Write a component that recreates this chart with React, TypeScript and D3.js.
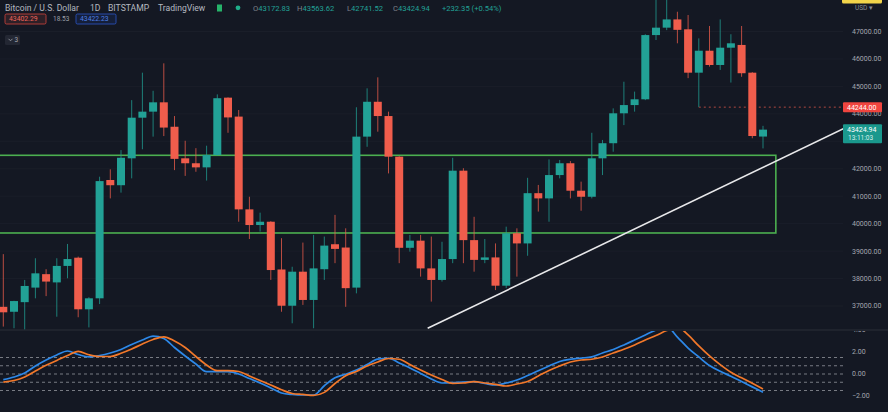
import React from 'react';
import * as d3 from 'd3';

// daily BTC/USD candles, bar 0 = left edge of the view
const opens = [
  36970, 36790, 37140, 37670, 38160, 37860, 38460, 38760, 36880, 37280,
  41590, 41400, 42380, 43860, 44080, 44420, 43530, 42380, 42200, 42050,
  42500, 44590, 43900, 40520, 39950, 40070, 38330, 37010, 38250, 37220,
  38340, 39250, 39130, 37670, 43170, 44440, 43920, 42440, 39120, 39380,
  38370, 37950, 38710, 41930, 39400, 38680, 38770, 37740, 39650, 39280,
  41110, 40920, 41770, 42200, 41200, 40980, 42380, 42930, 44020, 44320,
  44530, 46870, 47140, 47440, 47080, 45500, 46300, 45780, 46410, 46510,
  45500, 43172.83,
];
const highs = [
  38890, 37190, 37950, 38740, 38340, 38740, 39260, 38800, 37320, 41710,
  41980, 42680, 44500, 45500, 44840, 45840, 43920, 43020, 42750, 42840,
  44710, 44600, 44140, 40980, 40400, 40090, 39470, 38430, 39310, 39590,
  39530, 40320, 39830, 44240, 44930, 45330, 44080, 42460, 39590, 39590,
  39530, 39340, 42400, 42020, 40250, 39440, 39280, 39890, 39830, 41670,
  41410, 42340, 42320, 42280, 41530, 43310, 43050, 44200, 45170, 44810,
  46900, 48150, 48150, 47720, 47600, 46750, 47200, 47440, 46900, 47200,
  45520, 43563.62,
];
const lows = [
  36250, 36190, 36150, 37280, 37360, 36610, 38010, 36590, 36220, 37070,
  40920, 41130, 41650, 42710, 43170, 43190, 41950, 41740, 41890, 41570,
  42480, 43310, 40070, 39440, 39710, 37950, 36790, 36370, 37040, 36190,
  37950, 38560, 36970, 37460, 42800, 43350, 41830, 38560, 38980, 38070,
  37160, 37890, 38560, 38560, 38250, 38560, 37580, 37650, 38070, 38830,
  40440, 40070, 41650, 40920, 40470, 40920, 41770, 42620, 43590, 44080,
  44500, 46690, 47050, 46570, 45300, 44244, 45720, 45600, 45140, 45350,
  43110, 42741.52,
];
const closes = [
  36770, 37180, 37730, 38190, 37890, 38460, 38710, 36880, 37280, 41550,
  41400, 42400, 43860, 44080, 44420, 43500, 42360, 42200, 42050, 42500,
  44570, 43870, 40520, 39950, 40070, 38310, 37010, 38250, 37220, 38370,
  39200, 39080, 37650, 43170, 44440, 43920, 42440, 39120, 39380, 38370,
  37950, 38710, 41930, 39400, 38680, 38770, 37740, 39650, 39280, 41110,
  40920, 41770, 42200, 41200, 40980, 42380, 42930, 44020, 44320, 44530,
  46870, 47140, 47440, 47060, 45500, 46300, 45780, 46410, 46570, 45480,
  43192.59, 43424.94,
];

// oscillator pane
const fastLine = [
  -0.51, -0.27, 0.09, 0.73, 1.27, 1.73, 2.09, 1.77, 1.55, 1.68,
  1.91, 2.23, 2.68, 3.09, 3.45, 3.23, 2.41, 1.64, 0.91, 0.21,
  0.21, 0.21, 0, -0.41, -0.82, -1.27, -1.73, -1.86, -1.91, -1.91,
  -1.07, -0.34, -0.02, 0.36, 0.86, 1.36, 1.43, 1.0, 0.55, 0.05,
  -0.45, -0.82, -0.79, -0.73, -0.7, -0.86, -1.0, -0.82, -0.55, -0.14,
  0.3, 0.73, 1.14, 1.34, 1.45, 1.55, 1.91, 2.23, 2.64, 3.09,
  3.55, 4.0, 4.3, 3.36, 2.36, 1.55, 0.77, 0.24, -0.2, -0.68,
  -1.17, -1.66,
];
const slowLine = [
  -0.73, -0.59, -0.27, 0.27, 0.79, 1.23, 1.68, 2.06, 1.75, 1.59,
  1.59, 1.88, 2.27, 2.73, 3.14, 3.38, 3.0, 2.41, 1.59, 0.82,
  0.3, 0.3, 0.23, -0.18, -0.59, -1.0, -1.43, -1.77, -1.86, -1.95,
  -1.67, -0.86, -0.15, 0.23, 0.73, 1.09, 1.41, 1.34, 0.86, 0.36,
  -0.09, -0.5, -0.86, -0.82, -0.7, -0.82, -0.95, -1.09, -0.91, -0.68,
  -0.18, 0.32, 0.73, 1.09, 1.27, 1.34, 1.55, 1.91, 2.25, 2.64,
  3.09, 3.5, 3.95, 4.27, 3.55, 2.55, 1.64, 0.85, 0.16, -0.35,
  -0.85, -1.36,
];

const priceTicks = [47000, 46000, 45000, 44000, 43000, 42000, 41000, 40000, 39000, 38000, 37000];
const hiddenTicks = [43000]; // sits under the last-price tag
const oscTicks = [4, 2, 0, -2];
const oscLevels = [1.5, 0.75, 0, -0.75, -1.5];

// drawings (bar index, price)
const zoneBars = [-2, 72.2];
const zonePrices = [42490, 39660];
const trendBars = [39.66, 78.66];
const trendPrices = [36188, 43484];
const markPrice = 44244;
const markFromBar = 65;
const lastPrice = closes[closes.length - 1];

const W = 888;
const H = 412;
const PANE_R = 843;
const MAIN_B = 330;
const AXIS_X = 852;

const UP = '#22a196';
const DOWN = '#f05d4c';
const TEXT = '#a3a6af';
const FONT = 'Roboto, "Noto Sans", sans-serif';

export default function App() {
  const x = d3.scaleLinear().domain([0, 71]).range([3.3, 763]);
  const y = d3.scaleLinear().domain([37000, 47000]).range([306, 31.5]);
  const yo = d3.scaleLinear().domain([-2, 2]).range([396, 352]);
  const bw = 8;

  const oscPath = d3.line<number>()
    .x((_, i) => x(i))
    .y(d => yo(d))
    .curve(d3.curveMonotoneX);

  const fmt = d3.format('.2f');

  return (
    <div style={{ position: 'fixed', left: 0, top: 0 }}>
      <svg width={W} height={H} style={{ display: 'block', fontFamily: FONT }}>
        <defs>
          <clipPath id="mainClip">
            <rect x={0} y={0} width={PANE_R} height={MAIN_B} />
          </clipPath>
          <clipPath id="oscClip">
            <rect x={0} y={MAIN_B + 1} width={PANE_R} height={H - MAIN_B} />
          </clipPath>
          <clipPath id="oscAxisClip">
            <rect x={PANE_R} y={MAIN_B + 1} width={W - PANE_R} height={H - MAIN_B} />
          </clipPath>
        </defs>

        <rect width={W} height={H} fill="#141823" />

        {/* grid */}
        {priceTicks.map(t => (
          <line key={t} x1={0} x2={PANE_R} y1={y(t)} y2={y(t)} stroke="#1a1e29" />
        ))}
        <line x1={0} x2={W} y1={MAIN_B} y2={MAIN_B} stroke="#2a2e39" />

        <g clipPath="url(#mainClip)">
          {/* support zone */}
          <rect
            x={x(zoneBars[0])}
            y={y(zonePrices[0])}
            width={x(zoneBars[1]) - x(zoneBars[0])}
            height={y(zonePrices[1]) - y(zonePrices[0])}
            fill="none"
            stroke="#4caf50"
            strokeWidth={1.6}
          />

          <line
            x1={x(markFromBar)} x2={PANE_R}
            y1={y(markPrice)} y2={y(markPrice)}
            stroke="#f05d4c" strokeOpacity={0.7} strokeDasharray="2 3"
          />

          {closes.map((c, i) => {
            const o = opens[i];
            const isUp = c >= o;
            const col = isUp ? UP : DOWN;
            const top = y(Math.max(o, c));
            const bot = y(Math.min(o, c));
            const cx = x(i);
            return (
              <g key={i}>
                <line x1={cx} x2={cx} y1={y(highs[i])} y2={y(lows[i])} stroke={col} strokeOpacity={0.75} />
                <rect x={cx - bw / 2} y={top} width={bw} height={Math.max(1, bot - top)} fill={col} />
              </g>
            );
          })}

          <line
            x1={x(trendBars[0])} y1={y(trendPrices[0])}
            x2={x(trendBars[1])} y2={y(trendPrices[1])}
            stroke="#e8e8ea" strokeWidth={1.6}
          />
        </g>

        {/* oscillator */}
        <g clipPath="url(#oscClip)">
          {oscLevels.map(l => (
            <line key={l} x1={0} x2={PANE_R} y1={yo(l)} y2={yo(l)} stroke="#9a9ca4" strokeOpacity={0.75} strokeDasharray="3 3" />
          ))}
          <path d={oscPath(fastLine) || ''} fill="none" stroke="#2d88e8" strokeWidth={1.7} />
          <path d={oscPath(slowLine) || ''} fill="none" stroke="#f2782a" strokeWidth={1.7} />
        </g>

        {/* price axis */}
        {priceTicks.filter(t => !hiddenTicks.includes(t)).map(t => (
          <text key={t} x={AXIS_X} y={y(t)} dy="0.35em" fontSize={7} fill={TEXT}>{fmt(t)}</text>
        ))}
        <g clipPath="url(#oscAxisClip)">
          {oscTicks.map(t => (
            <text key={t} x={AXIS_X} y={yo(t)} dy="0.35em" fontSize={7} fill={TEXT}>{fmt(t)}</text>
          ))}
        </g>

        <rect x={PANE_R} y={y(markPrice) - 5} width={39} height={10} fill="#f0453f" rx={1} />
        <text x={PANE_R + 4} y={y(markPrice)} dy="0.35em" fontSize={7} fill="#ffffff">{fmt(markPrice)}</text>

        <rect x={PANE_R} y={y(lastPrice) - 5.5} width={39} height={19} fill="#1a988d" rx={1} />
        <text x={PANE_R + 4} y={y(lastPrice)} dy="0.35em" fontSize={7} fill="#ffffff">{fmt(lastPrice)}</text>
        <text x={PANE_R + 5} y={y(lastPrice) + 8.5} dy="0.35em" fontSize={6.5} fill="#d8efec">13:11:03</text>

        <rect x={842} y={-5} width={40} height={8.5} fill="#f2d44a" rx={1.5} />
        <text x={855} y={8} dy="0.35em" fontSize={6.5} fill="#8a8d96">USD ▾</text>

        {/* legend */}
        <text x={5} y={8} dy="0.35em" fontSize={8.6} fill="#b5b8c0">
          <tspan>Bitcoin / U.S. Dollar</tspan>
          <tspan x={90}>1D</tspan>
          <tspan x={108}>BITSTAMP</tspan>
          <tspan x={158}>TradingView</tspan>
        </text>
        <rect x={217} y={4.5} width={5} height={7} fill="#26b36a" />
        <circle cx={238} cy={7.8} r={2.4} fill="#1fae8a" />
        <text x={253} y={8} dy="0.35em" fontSize={7.6} fill={UP}>
          <tspan fill="#7d808a">O</tspan><tspan>43172.83</tspan>
          <tspan x={297} fill="#7d808a">H</tspan><tspan>43563.62</tspan>
          <tspan x={347} fill="#7d808a">L</tspan><tspan>42741.52</tspan>
          <tspan x={393} fill="#7d808a">C</tspan><tspan>43424.94</tspan>
          <tspan x={442}>+232.35 (+0.54%)</tspan>
        </text>

        <rect x={5} y={14} width={41} height={10} fill="rgba(240,93,76,0.12)" stroke="#d2453c" strokeWidth={0.8} rx={1.5} />
        <text x={9} y={19} dy="0.35em" fontSize={6.8} fill="#f0645a">43402.29</text>
        <text x={53} y={19} dy="0.35em" fontSize={6.5} fill="#9ea1aa">18.53</text>
        <rect x={76} y={14} width={40} height={10} fill="rgba(41,98,255,0.1)" stroke="#2c57c9" strokeWidth={0.8} rx={1.5} />
        <text x={80} y={19} dy="0.35em" fontSize={6.8} fill="#4f7fe6">43422.23</text>

        <rect x={5} y={35} width={15} height={10} fill="#232733" rx={1.5} />
        <path d="M8.5 38.8 L10.5 40.8 L12.5 38.8" fill="none" stroke="#a3a6af" strokeWidth={0.8} />
        <text x={14.5} y={40} dy="0.35em" fontSize={6.5} fill="#a3a6af">3</text>
      </svg>
    </div>
  );
}
